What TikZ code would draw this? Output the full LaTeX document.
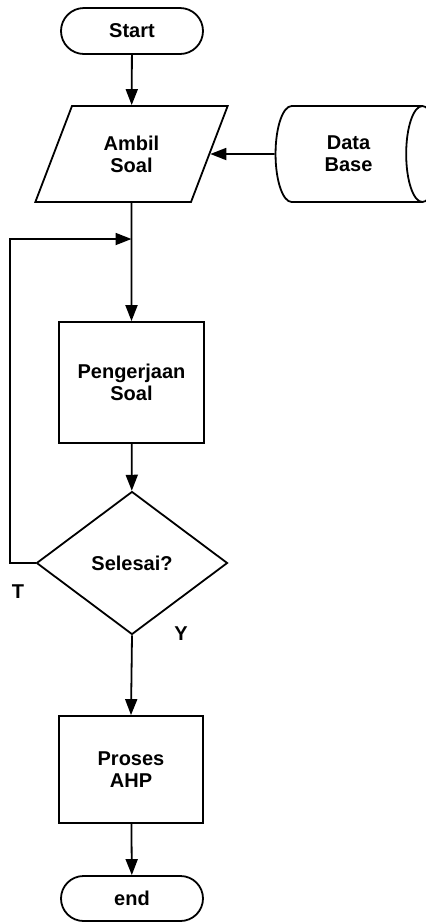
\documentclass[tikz,border=0pt]{standalone}
\usepackage{fontspec}
\setmainfont{Liberation Sans}
\usetikzlibrary{shapes.geometric,shapes.misc,arrows.meta}
\begin{document}
\begin{tikzpicture}[x=0.5pt,y=-0.5pt,
  every node/.style={font=\fontsize{10}{11}\selectfont\bfseries, align=center},
  shapebox/.style={draw, line width=0.9pt, inner sep=0pt},
  terminal/.style={shapebox, rounded rectangle, minimum width=71pt, minimum height=23pt},
  iobox/.style={shapebox, trapezium, trapezium left angle=65, trapezium right angle=115,
    trapezium stretches=true, minimum width=96.5pt, minimum height=48pt},
  store/.style={shapebox, cylinder, aspect=0.9, minimum width=48pt, minimum height=81.5pt},
  procbox/.style={shapebox, rectangle},
  decision/.style={shapebox, diamond, minimum width=95.5pt, minimum height=71.5pt},
  flow/.style={line width=0.9pt, -{Triangle[length=8pt,width=6pt]}},
  tag/.style={font=\fontsize{10}{11}\selectfont\bfseries}]
  \useasboundingbox (0,0) rectangle (425,923);

  \node[terminal] (start) at (132,31) {Start};
  \node[iobox] (ambil) at (131.5,154) {Ambil\\Soal};
  \node[store] (db) at (348.5,154) {Data\\Base};
  \node[procbox, minimum width=72.5pt, minimum height=60.5pt] (kerja) at (131.5,382.5) {Pengerjaan\\Soal};
  \node[decision] (selesai) at (132,563) {Selesai?};
  \node[procbox, minimum width=72pt, minimum height=53.5pt] (proses) at (131,769.5) {Proses\\AHP};
  \node[terminal, minimum height=22.5pt] (end) at (132,898.5) {end};

  \coordinate (loopcorner) at (10,563);
  \coordinate (join) at (131.5,239);

  \draw[flow] (start) -- (ambil);
  \draw[flow] (db.west) -- (ambil);
  \draw[flow] (ambil.south) -- (kerja.north);
  \draw[flow] (kerja) -- (selesai);
  \draw[flow] (selesai.west) -- (loopcorner) |- (join);
  \draw[flow] (selesai.south) -- (proses.north);
  \draw[flow] (proses) -- (end);

  \node[tag] (labelT) at (18,592) {T};
  \node[tag] (labelY) at (181,634) {Y};
\end{tikzpicture}
\end{document}
